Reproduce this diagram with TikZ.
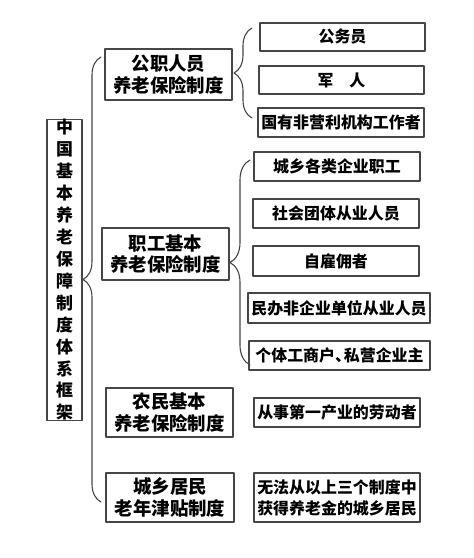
\documentclass[tikz,border=0pt]{standalone}
\usepackage{fontspec}
\newfontfamily\cjk{Noto Sans CJK SC}
\usepackage{tikz}
\usetikzlibrary{decorations.pathreplacing}

\tikzset{
  box/.style={draw=gray!55!black,line width=1.4bp,fill=white,inner sep=0pt,align=center,text=black},
  rootbox/.style={box,minimum width=35bp,minimum height=274bp,font=\cjk\bfseries\fontsize{17}{22}\selectfont},
  catbox/.style={box,minimum width=127bp,minimum height=50bp,font=\cjk\bfseries\fontsize{18.5}{22}\selectfont},
  leafbox/.style={box,minimum width=166bp,minimum height=29bp,font=\cjk\bfseries\fontsize{16}{21}\selectfont},
  bracket/.style={draw=gray!55!black,line width=1.1bp,decorate,decoration={brace,amplitude=#1}}
}

\begin{document}
\begin{tikzpicture}[x=1bp,y=-1bp,line cap=round,line join=round]
	\useasboundingbox[fill=white] (0,0) rectangle (474,558);
	% root
	\node[rootbox] (root) at (64.5,270) {中\\国\\基\\本\\养\\老\\保\\障\\制\\度\\体\\系\\框\\架};
	% four systems
	\node[catbox,minimum height=51bp] (gong) at (168.5,74.5) {公职人员\\养老保险制度};
	\node[catbox,minimum height=52bp] (zhi) at (165.5,254) {职工基本\\养老保险制度};
	\node[catbox,minimum height=49bp] (nong) at (169.5,412.5) {农民基本\\养老保险制度};
	\node[catbox,minimum height=49bp,minimum width=128bp] (ju) at (170,497.5) {城乡居民\\老年津贴制度};
	% covered people
	\node[leafbox,minimum width=165bp,minimum height=28bp] (gwy) at (342.5,37) {公务员};
	\node[leafbox,minimum width=165bp,minimum height=28bp] (jun) at (341.5,80) {军\quad 人};
	\node[leafbox] (guoyou) at (341,122.5) {国有非营利机构工作者};
	\node[leafbox] (qiye) at (337,166.5) {城乡各类企业职工};
	\node[leafbox] (shetuan) at (336,213.5) {社会团体从业人员};
	\node[leafbox,minimum height=30bp] (zigu) at (336,261) {自雇佣者};
	\node[leafbox,minimum width=182bp,minimum height=30bp] (minban) at (339,308) {民办非企业单位从业人员};
	\node[leafbox,minimum width=181bp] (geti) at (339.5,355.5) {个体工商户、\kern-0.45em私营企业主};
	\node[leafbox] (nongmin) at (337,412.5) {从事第一产业的劳动者};
	\node[leafbox,minimum height=49bp] (jumin) at (337,497.5) {无法从以上三个制度中\\获得养老金的城乡居民};
	% braces
	\coordinate (bigtop) at (101,57);
	\coordinate (bigbot) at (101,502);
	\draw[bracket=18bp] (bigbot) -- (bigtop);
	\coordinate (gtop) at (252,28);
	\coordinate (gbot) at (252,118);
	\draw[bracket=18bp] (gbot) -- (gtop);
	\coordinate (ztop) at (250,160);
	\coordinate (zbot) at (250,365);
	\draw[bracket=20bp] (zbot) -- (ztop);
\end{tikzpicture}
\end{document}
